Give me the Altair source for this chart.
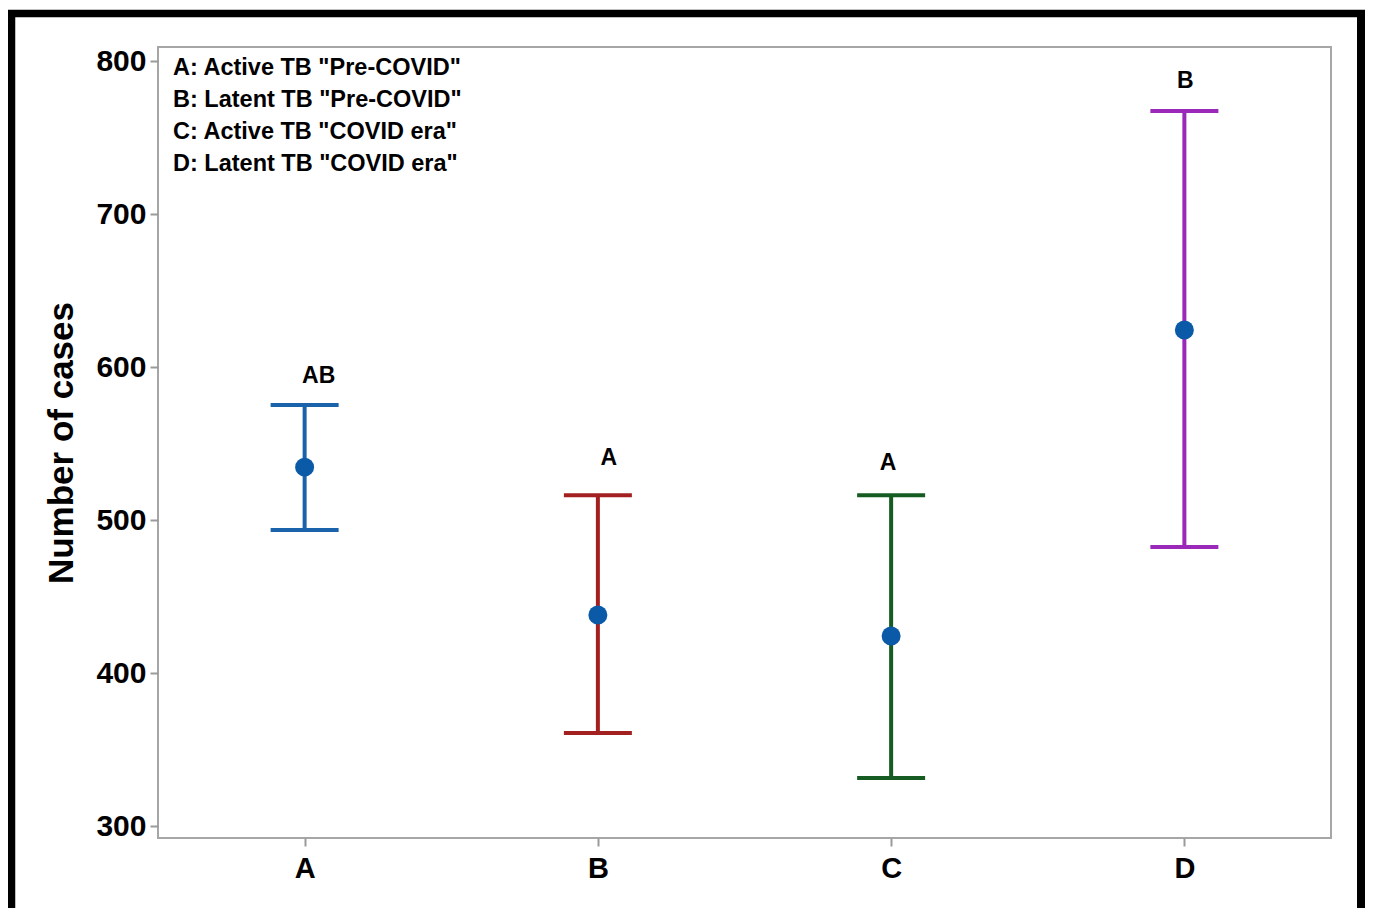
import altair as alt
import pandas as pd

groups = ["A", "B", "C", "D"]
means = [534.6, 437.9, 424.2, 624.2]
lowers = [493.5, 360.8, 331.4, 482.4]
uppers = [575.2, 516.3, 516.3, 767.3]
letters = ["AB", "A", "A", "B"]
letter_y = [594.0, 540.5, 537.3, 787.0]
colors = ["#1a62aa", "#a2201f", "#165c22", "#9a28b8"]
point_color = "#0b5aa8"
notes = [
    'A: Active TB "Pre-COVID"',
    'B: Latent TB "Pre-COVID"',
    'C: Active TB "COVID era"',
    'D:  Latent TB "COVID era"',
]
y_ticks = [300, 400, 500, 600, 700, 800]
letter_dx = [14, 11, -3, 1]

FONT = "Liberation Sans"

df = pd.DataFrame({
    "group": groups, "mean": means, "lower": lowers, "upper": uppers,
    "letter": letters, "letter_y": letter_y,
})

x_enc = alt.X(
    "group:N",
    scale=alt.Scale(type="point", padding=0.5, domain=groups),
    axis=alt.Axis(title=None, labelAngle=0, labelFontSize=29, labelFontWeight="bold",
                  labelColor="black", labelFont=FONT, tickColor="#9a9a9a", tickWidth=2,
                  tickSize=8, labelPadding=8, domain=False, grid=False),
)
y_scale = alt.Scale(domain=[292.2, 809.2], nice=False, zero=False)
y_axis = alt.Axis(title="Number of cases", values=y_ticks, labelFontSize=30,
                  labelFontWeight="bold", labelColor="black", labelFont=FONT,
                  tickColor="#9a9a9a", tickWidth=2, tickSize=8, labelPadding=4,
                  domain=False, grid=False, titleFontSize=35, titleFontWeight="bold",
                  titleFont=FONT, titleColor="black", titlePadding=16)
color_enc = alt.Color("group:N", scale=alt.Scale(domain=groups, range=colors), legend=None)

base = alt.Chart(df)

bars = base.mark_rule(strokeWidth=4, opacity=1).encode(
    x=x_enc,
    y=alt.Y("lower:Q", scale=y_scale, axis=y_axis),
    y2="upper:Q",
    color=color_enc,
)
cap_lo = base.mark_tick(size=68, thickness=4, orient="horizontal", opacity=1).encode(
    x="group:N", y=alt.Y("lower:Q"), color=color_enc)
cap_hi = base.mark_tick(size=68, thickness=4, orient="horizontal", opacity=1).encode(
    x="group:N", y=alt.Y("upper:Q"), color=color_enc)
pts = base.mark_circle(size=360, opacity=1, color=point_color).encode(
    x="group:N", y="mean:Q")

label_layers = []
for g, d in zip(groups, letter_dx):
    label_layers.append(
        base.transform_filter(alt.datum.group == g).mark_text(
            fontSize=23, fontWeight="bold", font=FONT, color="black",
            baseline="middle", align="center", dx=d,
        ).encode(x="group:N", y="letter_y:Q", text="letter:N")
    )

note_text = alt.Chart(pd.DataFrame({"k": [0]})).mark_text(
    text=notes, align="left", baseline="alphabetic", fontSize=23.5, fontWeight="bold",
    font=FONT, color="black", lineHeight=32,
).encode(x=alt.value(15), y=alt.value(28))

frame_df = pd.DataFrame({"k": [0]})
frame_top = alt.Chart(frame_df).mark_rule(color="black", strokeWidth=7.5).encode(
    x=alt.value(-150), x2=alt.value(1207), y=alt.value(-33.5))
frame_left = alt.Chart(frame_df).mark_rule(color="black", strokeWidth=7.5).encode(
    x=alt.value(-146.5), y=alt.value(-37), y2=alt.value(900))
frame_right = alt.Chart(frame_df).mark_rule(color="black", strokeWidth=8).encode(
    x=alt.value(1203), y=alt.value(-37), y2=alt.value(900))

chart = alt.layer(
    bars, cap_lo, cap_hi, pts, *label_layers, note_text, frame_top, frame_left, frame_right
).properties(
    width=1173, height=791,
    autosize=alt.AutoSizeParams(type="none"),
    padding={"left": 150, "top": 39, "right": 34, "bottom": 70},
    background="white",
).configure_view(stroke="#a6a6a6", strokeWidth=2)

chart.save("out.html", embed_options={"renderer": "svg", "actions": False})
